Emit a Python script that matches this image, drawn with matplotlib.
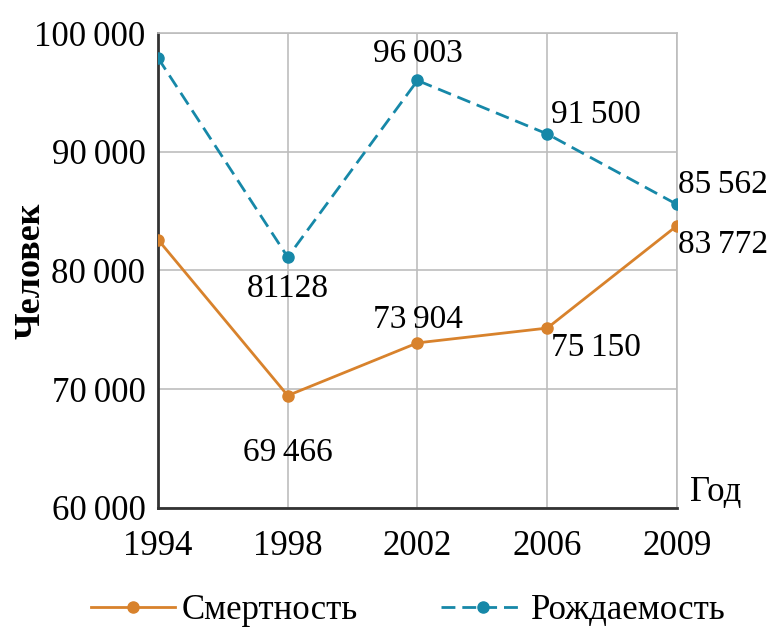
import numpy as np
import matplotlib.pyplot as plt

years = ['1994', '1998', '2002', '2006', '2009']
births = [97900, 81128, 96003, 91500, 85562]
deaths = [82600, 69466, 73904, 75150, 83772]
births_labels = ['', '81128', '96\u2009003', '91\u2009500', '85\u2009562']
deaths_labels = ['', '69\u2009466', '73\u2009904', '75\u2009150', '83\u2009772']
y_ticks = [60000, 70000, 80000, 90000, 100000]
y_tick_labels = ['60\u2009000', '70\u2009000', '80\u2009000', '90\u2009000', '100\u2009000']

orange = '#d8822c'
teal = '#1688a8'

plt.rcParams['font.family'] = ['Liberation Serif', 'DejaVu Serif']

fig = plt.figure(figsize=(7.71, 6.3), dpi=100)
ax = fig.add_axes([0.2049, 0.1937, 0.6732, 0.7539])

x = np.arange(len(years))
ax.plot(x, deaths, color=orange, lw=2, marker='o', ms=8, label='Смертность', zorder=3)
ax.plot(x, births, color=teal, lw=2, marker='o', ms=8, dashes=(5, 2.5), label='Рождаемость', zorder=3)

ax.set_xlim(0, 4)
ax.set_ylim(60000, 100000)
ax.set_xticks(x)
ax.set_xticklabels(years)
ax.set_yticks(y_ticks)
ax.set_yticklabels(y_tick_labels)
ax.tick_params(length=0, labelsize=25, pad=9)
ax.tick_params(axis='x', pad=16)
ax.grid(True, color='#bdbdbd', lw=1.2)
ax.set_axisbelow(True)
for s in ['top', 'right']:
    ax.spines[s].set_color('#bdbdbd')
    ax.spines[s].set_linewidth(1.2)
for s in ['left', 'bottom']:
    ax.spines[s].set_color('#333333')
    ax.spines[s].set_linewidth(2)

fs = 24
# births annotations
ax.annotate(births_labels[1], (1, births[1]), xytext=(0, -12), textcoords='offset points', ha='center', va='top', fontsize=fs)
ax.annotate(births_labels[2], (2, births[2]), xytext=(0, 8), textcoords='offset points', ha='center', va='bottom', fontsize=fs)
ax.annotate(births_labels[3], (3, births[3]), xytext=(3, 3), textcoords='offset points', ha='left', va='bottom', fontsize=fs)
ax.annotate(births_labels[4], (4, births[4]), xytext=(1, 3), textcoords='offset points', ha='left', va='bottom', fontsize=fs)
# deaths annotations
ax.annotate(deaths_labels[1], (1, deaths[1]), xytext=(0, -30), textcoords='offset points', ha='center', va='top', fontsize=fs)
ax.annotate(deaths_labels[2], (2, deaths[2]), xytext=(0, 6), textcoords='offset points', ha='center', va='bottom', fontsize=fs)
ax.annotate(deaths_labels[3], (3, deaths[3]), xytext=(3, -3), textcoords='offset points', ha='left', va='top', fontsize=fs)
ax.annotate(deaths_labels[4], (4, deaths[4]), xytext=(1, -3), textcoords='offset points', ha='left', va='top', fontsize=fs)

fig.text(0.04, 0.57, 'Человек', rotation=90, ha='center', va='center', fontsize=26, fontweight='bold')
fig.text(0.895, 0.218, 'Год', ha='left', va='center', fontsize=25)

fig.legend(loc='lower center', bbox_to_anchor=(0.53, -0.045), ncol=2, frameon=False,
           fontsize=25, handlelength=2.4, handletextpad=0.2, columnspacing=2.4)

fig.savefig('out.png', dpi=100)
